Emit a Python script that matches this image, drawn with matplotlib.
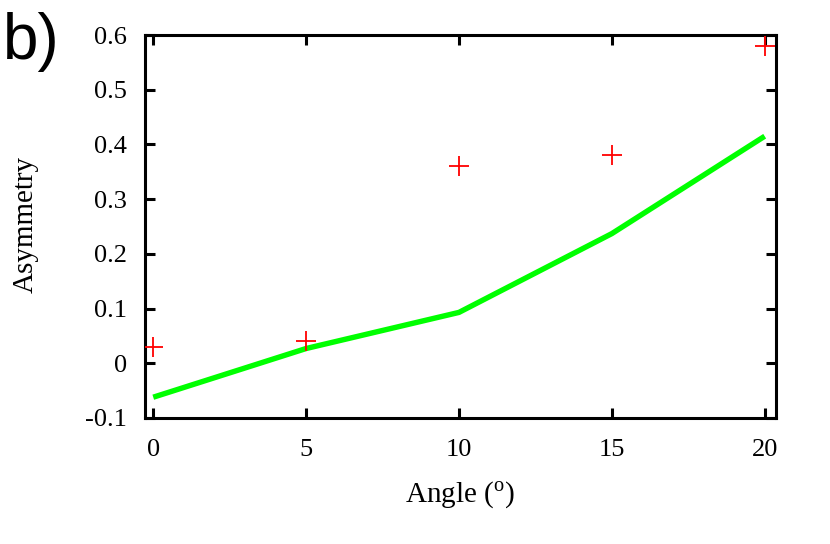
import matplotlib
matplotlib.use("Agg")
import matplotlib.pyplot as plt

angles = [0, 5, 10, 15, 20]
measured = [0.03, 0.04, 0.36, 0.38, 0.58]
model = [-0.062, 0.027, 0.093, 0.237, 0.415]
xticks = [0, 5, 10, 15, 20]
yticks = [-0.1, 0.0, 0.1, 0.2, 0.3, 0.4, 0.5, 0.6]
ytick_labels = ["-0.1", "0", "0.1", "0.2", "0.3", "0.4", "0.5", "0.6"]

plt.rcParams['font.family'] = ['Liberation Serif', 'DejaVu Serif']
plt.rcParams['mathtext.fontset'] = 'custom'
plt.rcParams['mathtext.rm'] = 'Liberation Serif'

fig = plt.figure(figsize=(8.3, 5.44), dpi=100)
ax = fig.add_axes([145/830, 1-418/544, (776-145)/830, (418-35)/544])

ax.plot(angles, model, color='#00ff00', lw=3.9, solid_capstyle='butt', zorder=2)
ax.plot(angles, measured, linestyle='none', marker='+', color='red', markersize=14, markeredgewidth=1.3, zorder=3)

ax.set_xlim(-0.27, 20.37)
ax.set_ylim(-0.1, 0.6)
ax.set_xticks(xticks)
ax.set_xticklabels([str(t) for t in xticks])
ax.set_yticks(yticks)
ax.set_yticklabels(ytick_labels)
ax.tick_params(direction='in', length=7, width=2.2, labelsize=19, top=True, right=True)
ax.tick_params(axis='x', pad=15)
ax.tick_params(axis='y', pad=13)
for s in ax.spines.values():
    s.set_linewidth(2.2)

ax.set_xlabel(r"Angle ($^{\mathrm{o}}$)", fontsize=21)
ax.set_ylabel("Asymmetry", fontsize=21)
ax.xaxis.set_label_coords((460 - 145) / 631, -(495 - 418) / 383)
ax.yaxis.set_label_coords(-(145 - 26) / 631, (418 - 224) / 383)
ax.xaxis.label.set_va('center')
ax.yaxis.label.set_va('center')

fig.text(0.004, 0.978, "b)", fontsize=46, family='Liberation Sans', va='top', ha='left')

fig.savefig("out.png", dpi=100)
